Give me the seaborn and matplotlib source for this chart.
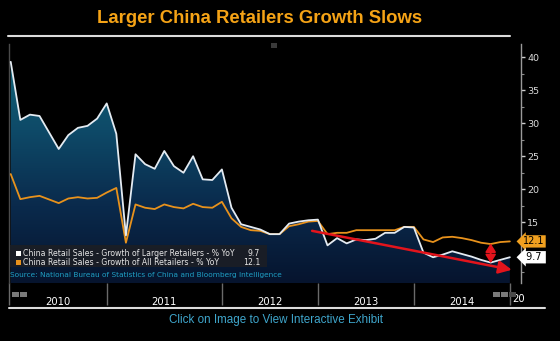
import numpy as np
import pandas as pd
import matplotlib
matplotlib.use("Agg")
import matplotlib.pyplot as plt
import seaborn as sns
from matplotlib.patches import Rectangle
from matplotlib.colors import LinearSegmentedColormap
from matplotlib.lines import Line2D

# ---------------- data ----------------
obs = [0, 1, 2, 3, 5, 6, 7, 8, 9, 10, 11, 12, 13, 14, 15, 16, 17, 18, 19, 20,
       21, 22, 23, 24, 25, 26, 27, 28, 29, 30, 31, 32, 33, 34, 35, 36, 37, 38,
       39, 40, 41, 42, 43, 44, 45, 46, 47, 48, 49, 50, 51, 52]
larger = [39.3, 30.5, 31.3, 31.1, 26.1, 28.2, 29.3, 29.6, 30.7, 33.0, 28.4,
          13.0, 25.3, 23.8, 23.1, 25.8, 23.5, 22.5, 25.0, 21.5, 21.4, 23.0,
          17.2, 14.7, 14.3, 13.9, 13.2, 13.2, 14.8, 15.1, 15.3, 15.4, 11.5,
          12.6, 11.8, 12.4, 12.3, 12.5, 13.4, 13.4, 14.3, 14.2, 10.4, 9.7,
          10.1, 10.6, 10.2, 9.8, 9.3, 8.9, 9.3, 9.7]
all_ret = [22.3, 18.5, 18.8, 19.0, 17.9, 18.6, 18.8, 18.6, 18.7, 19.5, 20.2,
           11.9, 17.7, 17.2, 17.0, 17.7, 17.3, 17.1, 17.8, 17.3, 17.2, 18.1,
           15.6, 14.3, 13.8, 13.7, 13.2, 13.2, 14.4, 14.7, 15.1, 15.2, 13.2,
           13.4, 13.4, 13.8, 13.8, 13.8, 13.8, 13.8, 14.3, 14.3, 12.4, 12.0,
           12.7, 12.8, 12.6, 12.3, 11.9, 11.7, 12.0, 12.1]
series_names = ["China Retail Sales - Growth of Larger Retailers - % YoY",
                "China Retail Sales - Growth of All Retailers - % YoY"]
last_values = ["9.7", "12.1"]
year_labels = ["2010", "2011", "2012", "2013", "2014"]
year_bounds = [10, 22, 32, 42, 52]
y_ticks = [10, 15, 20, 25, 30, 35, 40]
y_tick_labels = ["", "15", "20", "25", "30", "35", "40"]
trend_start = (31.4, 13.7)
trend_end = (52.2, 7.8)
gap_obs = 50

title = "Larger China Retailers Growth Slows"
source = "Source: National Bureau of Statistics of China and Bloomberg Intelligence"
footer = "Click on Image to View Interactive Exhibit"

# ---------------- style ----------------
sns.set_theme(style="dark")
plt.rcParams["font.family"] = ["DejaVu Sans"]

W, H = 560, 341
fig = plt.figure(figsize=(W / 100, H / 100), dpi=100, facecolor="black")


def fx(x):
    return x / W


def fy(y):
    return 1 - y / H


L, R, T, B = 9, 521, 44, 283
ax = fig.add_axes([fx(L), fy(B), fx(R) - fx(L), fy(T) - fy(B)])
ax.set_facecolor("black")
xlim = (-0.18, 53.16)
ylim = (5.8, 42.0)

WHITE = "#e4ebf2"
ORANGE = "#e8921c"

df = pd.DataFrame({"obs": obs, "larger": larger, "all": all_ret})

# gradient area under larger-retailers line
poly = ax.fill_between(df["obs"], df["larger"], ylim[0], color="none", lw=0)
cmap = LinearSegmentedColormap.from_list("g", ["#06142e", "#0a2a4c", "#0e4a68", "#106478"])
grad = np.linspace(0, 1, 256).reshape(-1, 1)
im = ax.imshow(grad, extent=[xlim[0], xlim[1], ylim[0], 40.5], aspect="auto",
               cmap=cmap, origin="lower", zorder=1)
im.set_clip_path(poly.get_paths()[0], transform=ax.transData)

sns.lineplot(data=df, x="obs", y="all", ax=ax, color=ORANGE, lw=1.3, zorder=3,
             sort=False)
sns.lineplot(data=df, x="obs", y="larger", ax=ax, color=WHITE, lw=1.3, zorder=4,
             sort=False)
ax.set_xlim(*xlim)
ax.set_ylim(*ylim)
ax.set_xlabel("")
ax.set_ylabel("")

# axes styling
ax.spines["top"].set_visible(False)
ax.spines["bottom"].set_visible(False)
ax.spines["left"].set_color("#4a4a4a")
ax.spines["left"].set_linewidth(1.0)
ax.spines["right"].set_color("#9a9a9a")
ax.spines["right"].set_linewidth(1.0)
ax.grid(False)

ax.yaxis.tick_right()
ax.set_yticks(y_ticks)
ax.set_yticklabels(y_tick_labels)
ax.set_yticks([v + 2.5 for v in y_ticks[:-1]] + [7.5], minor=True)
ax.tick_params(axis="y", which="major", right=True, left=False, direction="out",
               length=3, width=1, color="#cfcfcf", labelcolor="#dcdcdc",
               labelsize=6.8, pad=1.5)
ax.tick_params(axis="y", which="minor", right=True, left=False, direction="out",
               length=2, width=0.8, color="#8a8a8a")

# x-axis: year separators as long ticks, labels as minor ticks
bounds = [xlim[0]] + year_bounds
ax.set_xticks(bounds)
ax.set_xticklabels([""] * len(bounds))
centers = [(bounds[i] + bounds[i + 1]) / 2 for i in range(len(year_labels))]
ax.set_xticks(centers, minor=True)
ax.set_xticklabels(year_labels, minor=True)
ax.tick_params(axis="x", which="major", bottom=True, direction="out",
               length=16, width=1, color="#6a6a6a")
ax.tick_params(axis="x", which="minor", bottom=True, length=0, labelsize=7.2,
               labelcolor="white", pad=10)
ax.text(year_bounds[-1] + 0.2, -0.065, "20", transform=ax.get_xaxis_transform(),
        ha="left", va="center", color="white", fontsize=7.2, clip_on=False)

# trend arrow
ax.annotate("", xy=trend_end, xytext=trend_start,
            arrowprops=dict(arrowstyle="-|>,head_length=0.65,head_width=0.32",
                            color="#e3141c", lw=1.8, shrinkA=0, shrinkB=0),
            zorder=6, annotation_clip=False)
# gap double arrow
gi = obs.index(gap_obs)
ax.annotate("", xy=(gap_obs, larger[gi] - 0.1), xytext=(gap_obs, all_ret[gi] + 0.1),
            arrowprops=dict(arrowstyle="<|-|>,head_length=0.42,head_width=0.26",
                            color="#e3141c", lw=1.3, shrinkA=0, shrinkB=0),
            zorder=6)

# last value boxes on right axis
ax.text(1.004, all_ret[-1], last_values[1], transform=ax.get_yaxis_transform(),
        ha="left", va="center", fontsize=7, color="black", zorder=8,
        bbox=dict(boxstyle="larrow,pad=0.12", fc="#f0a020", ec="none"),
        clip_on=False)
ax.text(1.004, larger[-1], " " + last_values[0] + " ", transform=ax.get_yaxis_transform(),
        ha="left", va="center", fontsize=7, color="black", zorder=8,
        bbox=dict(boxstyle="larrow,pad=0.12", fc="white", ec="none"),
        clip_on=False)

# legend box
fig.patches.append(Rectangle((fx(10), fy(267)), fx(267) - fx(10), fy(245) - fy(267),
                             transform=fig.transFigure, fc="#1b1e25", ec="none",
                             alpha=0.92, zorder=5))
for k, (yy, col) in enumerate([(253.5, "white"), (262.3, ORANGE)]):
    fig.patches.append(Rectangle((fx(16), fy(yy + 2.6)), fx(5), 5.2 / H,
                                 transform=fig.transFigure, fc=col, ec="none", zorder=6))
    fig.text(fx(23), fy(yy), series_names[k], color="#e6e6e6", fontsize=5.6,
             ha="left", va="center", zorder=7)
    fig.text(fx(260), fy(yy), last_values[k], color="#e6e6e6", fontsize=5.6,
             ha="right", va="center", zorder=7)
fig.text(fx(10), fy(274.5), source, color="#1f9fc4", fontsize=5.3,
         ha="left", va="center", zorder=7)

# title and footer
fig.text(fx(260), fy(18.5), title, color="#f5a316", fontsize=13.3,
         fontweight="bold", family=["Liberation Sans", "DejaVu Sans"],
         ha="center", va="center")
fig.text(fx(276), fy(319.5), footer, color="#3fa6cc", fontsize=8.4,
         family=["Liberation Sans", "DejaVu Sans"], ha="center", va="center")

# horizontal rules
fig.add_artist(Line2D([fx(8), fx(510)], [fy(36), fy(36)], color="#dcdcdc", lw=1.5))
fig.add_artist(Line2D([fx(9), fx(545)], [fy(307.5), fy(307.5)], color="#dcdcdc", lw=1.5))

# small navigation buttons
for x0 in [12, 20]:
    fig.patches.append(Rectangle((fx(x0), fy(297)), fx(7), 5 / H,
                                 transform=fig.transFigure, fc="#7a7a7a", ec="none"))
for x0, c in [(493, "#7a7a7a"), (501, "#7a7a7a"), (509, "#4a4a4a")]:
    fig.patches.append(Rectangle((fx(x0), fy(297)), fx(7), 5 / H,
                                 transform=fig.transFigure, fc=c, ec="none"))
fig.patches.append(Rectangle((fx(271), fy(48)), fx(6), 5 / H,
                             transform=fig.transFigure, fc="#3a3a3a", ec="none"))

fig.savefig("out.png", dpi=100, facecolor="black")
